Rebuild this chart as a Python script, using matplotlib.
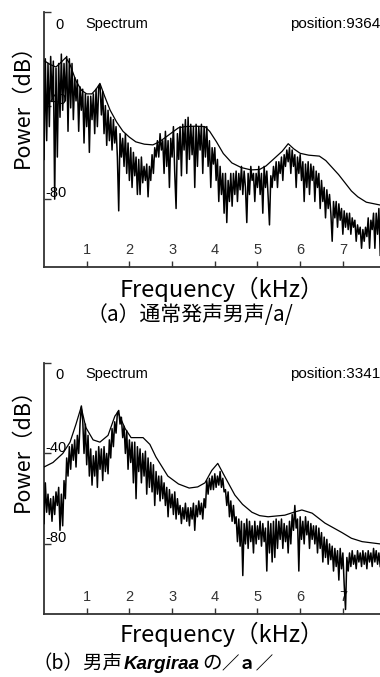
import matplotlib
matplotlib.use("Agg")
import matplotlib.pyplot as plt
import numpy as np

# ---------------- data ----------------
bin_khz = 0.03125          # FFT bin spacing (16 kHz / 512)
x_ticks = [1, 2, 3, 4, 5, 6, 7]
x_tick_labels = ["1", "2", "3", "4", "5", "6", "7"]
y_ticks = [0, -40, -80]

# (a) normal male voice /a/ : FFT spectrum (dB)
spec_a_db = [
    -63, -20, -55, -22, -49, -19, -38, -21, -80, -24, -62, -22, -45, -18, -42, -22, -38, -19, -51, -20,
    -41, -22, -46, -28, -38, -29, -51, -32, -42, -33, -56, -35, -49, -36, -60, -36, -46, -35, -52, -33,
    -49, -32, -31, -44, -34, -52, -40, -57, -42, -55, -45, -59, -46, -56, -49, -62, -85, -52, -62, -54,
    -66, -52, -69, -56, -72, -58, -75, -60, -70, -62, -78, -63, -78, -62, -73, -66, -72, -65, -79, -66,
    -72, -61, -69, -58, -62, -55, -62, -52, -59, -55, -69, -51, -66, -55, -75, -54, -62, -49, -69, -84,
    -52, -63, -49, -70, -48, -59, -46, -69, -45, -63, -48, -61, -49, -75, -48, -66, -49, -59, -48, -69,
    -49, -62, -49, -66, -55, -75, -58, -65, -58, -72, -63, -81, -66, -78, -69, -86, -69, -90, -72, -81,
    -69, -83, -69, -78, -68, -81, -69, -76, -66, -78, -68, -75, -90, -69, -78, -66, -72, -69, -81, -69,
    -75, -66, -78, -69, -86, -66, -75, -68, -79, -91, -70, -75, -66, -72, -64, -75, -64, -69, -62, -72,
    -61, -66, -59, -64, -58, -69, -59, -66, -61, -75, -62, -69, -61, -72, -64, -81, -65, -75, -64, -78,
    -65, -72, -66, -81, -68, -75, -69, -84, -72, -81, -75, -88, -76, -84, -78, -86, -98, -81, -88, -81,
    -92, -82, -89, -84, -95, -85, -92, -86, -93, -86, -95, -88, -92, -89, -98, -91, -95, -92, -101, -93,
    -98, -92, -96, -88, -101, -89, -93, -86, -101, -86, -95, -84, -104,
]
# (a) spectral envelope
env_a_khz = [0.02, 0.15, 0.28, 0.40, 0.51, 0.60, 0.75, 0.88, 1.00, 1.12, 1.22, 1.31, 1.42, 1.55, 1.70,
             1.85, 2.00, 2.15, 2.35, 2.55, 2.70, 2.83, 3.00, 3.15, 3.30, 3.55, 3.77, 3.88, 4.04, 4.20,
             4.40, 4.62, 4.85, 5.05, 5.20, 5.40, 5.58, 5.72, 5.85, 6.00, 6.20, 6.45, 6.60, 6.75, 6.90,
             7.05, 7.20, 7.35, 7.55, 7.87]
env_a_db = [-21, -22.5, -23.5, -21.5, -19.5, -22, -29.5, -33.5, -35, -35, -33, -30.5, -36, -42, -47,
            -51, -53.5, -55.5, -56.5, -56.8, -55.5, -53.8, -51.5, -49.5, -49, -48.8, -49, -51, -55.5, -60.5,
            -64.5, -66.5, -67.5, -67.3, -65.8, -62.5, -59.5, -56.3, -58.5, -60.4, -61.2, -61.6, -63.5, -66.5, -69.5,
            -73, -76.5, -79, -81.3, -82.5]

# (b) male Kargiraa /a/ : FFT spectrum (dB)
spec_b_db = [
    -71, -53, -66, -58, -67, -60, -70, -59, -67, -57, -63, -55, -74, -58, -72, -52, -60, -42, -50, -37,
    -47, -36, -43, -34, -46, -32, -40, -27, -19, -25, -40, -27, -45, -32, -50, -38, -54, -41, -50, -39,
    -55, -37, -47, -38, -52, -37, -48, -40, -49, -34, -42, -29, -37, -26, -31, -22, -21, -27, -24, -33,
    -28, -40, -30, -47, -34, -44, -35, -53, -35, -60, -37, -48, -38, -53, -40, -50, -39, -58, -42, -55,
    -44, -57, -45, -63, -48, -58, -50, -61, -50, -60, -53, -63, -55, -68, -56, -64, -58, -67, -57, -69,
    -60, -67, -63, -71, -64, -69, -62, -70, -64, -72, -64, -69, -62, -74, -63, -68, -61, -67, -62, -69,
    -60, -64, -52, -58, -51, -56, -50, -56, -49, -55, -50, -54, -48, -55, -51, -57, -56, -63, -57, -68,
    -61, -70, -63, -71, -68, -79, -69, -81, -70, -94, -71, -80, -69, -82, -70, -79, -72, -84, -70, -80,
    -72, -78, -70, -81, -71, -79, -73, -92, -70, -84, -71, -88, -70, -86, -69, -82, -70, -78, -69, -82,
    -71, -79, -72, -84, -70, -80, -67, -74, -63, -73, -69, -92, -68, -78, -70, -80, -68, -76, -70, -82,
    -71, -78, -72, -80, -72, -84, -73, -82, -75, -88, -77, -86, -78, -89, -80, -87, -81, -92, -82, -90,
    -83, -96, -82, -91, -84, -98, -109, -86, -92, -84, -90, -83, -89, -85, -91, -83, -88, -84, -90, -83,
    -89, -84, -91, -83, -88, -84, -90, -82, -88, -83, -89, -84, -90,
]
# (b) spectral envelope
env_b_khz = [0.00, 0.21, 0.44, 0.61, 0.75, 0.87, 0.98, 1.15, 1.31, 1.50, 1.66, 1.73, 1.90, 2.04, 2.32,
             2.48, 2.62, 2.90, 3.15, 3.40, 3.60, 3.77, 3.93, 4.07, 4.24, 4.47, 4.65, 4.87, 5.05, 5.25,
             5.64, 5.85, 6.04, 6.28, 6.58, 6.98, 7.20, 7.45, 7.87]
env_b_db = [-46, -44, -40, -35, -27, -19.5, -28.5, -34, -35, -32, -23.5, -21.7, -29, -33, -33,
            -36, -41.5, -50, -53.5, -55.3, -54.8, -53, -47.5, -44.4, -50.4, -58.4, -62.5, -66, -67.5, -68,
            -67.3, -66, -65, -66.4, -70.8, -75, -77.5, -79, -80]

positions = ["position:9364", "position:3341"]
y_bottoms = [-109, -111]

# ---------------- figure ----------------
W, H = 380, 677
fig = plt.figure(figsize=(W / 100, H / 100), dpi=100)
fig.patch.set_facecolor("white")

def fpos(x, y):
    return x / W, 1 - y / H

SANS = ["Liberation Sans", "DejaVu Sans"]
CJK = ["Noto Sans CJK JP", "DejaVu Sans"]

ax1 = fig.add_axes([44 / W, 1 - 267 / H, 336 / W, 255 / H])
ax2 = fig.add_axes([44 / W, 1 - 614 / H, 336 / W, 251 / H])

panels = [
    (ax1, spec_a_db, env_a_khz, env_a_db, positions[0], y_bottoms[0]),
    (ax2, spec_b_db, env_b_khz, env_b_db, positions[1], y_bottoms[1]),
]

for ax, spec, ek, ed, pos, ybot in panels:
    freqs = np.arange(len(spec)) * bin_khz
    ax.plot(freqs, spec, color="black", lw=1.1, zorder=3)
    ax.plot(ek, ed, color="black", lw=0.9, zorder=4)
    ax.set_xlim(0, 7.87)
    ax.set_ylim(ybot, 0)
    for s in ["top", "right"]:
        ax.spines[s].set_visible(False)
    for s in ["left", "bottom"]:
        ax.spines[s].set_linewidth(1.3)
        ax.spines[s].set_color("#333333")
    ax.set_xticks(x_ticks)
    ax.set_xticklabels(x_tick_labels, fontsize=10.5, family=SANS, color="#222222")
    ax.tick_params(axis="x", direction="in", length=4, width=1, pad=-12, colors="#333333")
    for lab in ax.get_xticklabels():
        lab.set_va("center")
    ax.set_yticks(y_ticks)
    ax.set_yticklabels([])
    ax.tick_params(axis="y", direction="in", length=5, width=1, colors="#333333")
    # y labels inside
    ax.text(0.26, -5.5, "0", fontsize=10.5, family=SANS, ha="left", va="center", zorder=1)
    ax.text(0.03, -37.5, "-40", fontsize=10.5, family=SANS, ha="left", va="center", zorder=1)
    ax.text(0.03, -77.5, "-80", fontsize=10.5, family=SANS, ha="left", va="center", zorder=1)
    ax.text(0.98, -5, "Spectrum", fontsize=10.5, family=SANS, ha="left", va="center")
    ax.text(1.0, -5, pos, fontsize=11, family=SANS, ha="right", va="center",
            transform=ax.get_yaxis_transform())

# axis labels
fig.text(*fpos(23, 101), "Power（dB）", rotation=90, fontsize=15.5, family=CJK, ha="center", va="center")
fig.text(*fpos(23, 445), "Power（dB）", rotation=90, fontsize=15.5, family=CJK, ha="center", va="center")
fig.text(*fpos(222, 289), "Frequency（kHz）", fontsize=17, family=CJK, ha="center", va="center")
fig.text(*fpos(222, 634), "Frequency（kHz）", fontsize=17, family=CJK, ha="center", va="center")

# captions
fig.text(*fpos(190, 315), "（a）通常発声男声/a/", fontsize=15, family=CJK, ha="center", va="center")

fig.canvas.draw()
r = fig.canvas.get_renderer()
base_y = 1 - 669 / H
t1 = fig.text(33 / W, base_y, "（b）男声", fontsize=14, family=CJK, ha="left", va="baseline")
fig.canvas.draw()
bb = t1.get_window_extent(r)
t2 = fig.text(bb.x1 / W + 1 / W, base_y, "Kargiraa", fontsize=13.5, family=SANS, weight="bold",
              style="italic", ha="left", va="baseline")
fig.canvas.draw()
bb = t2.get_window_extent(r)
t3 = fig.text(bb.x1 / W + 2 / W, base_y, "の", fontsize=14, family=CJK, ha="left", va="baseline")
fig.canvas.draw()
bb = t3.get_window_extent(r)
fig.text(bb.x1 / W, base_y, "／ａ／", fontsize=12.5, family=CJK, weight="bold",
         ha="left", va="baseline")

fig.savefig("out.png", dpi=100, facecolor="white")
